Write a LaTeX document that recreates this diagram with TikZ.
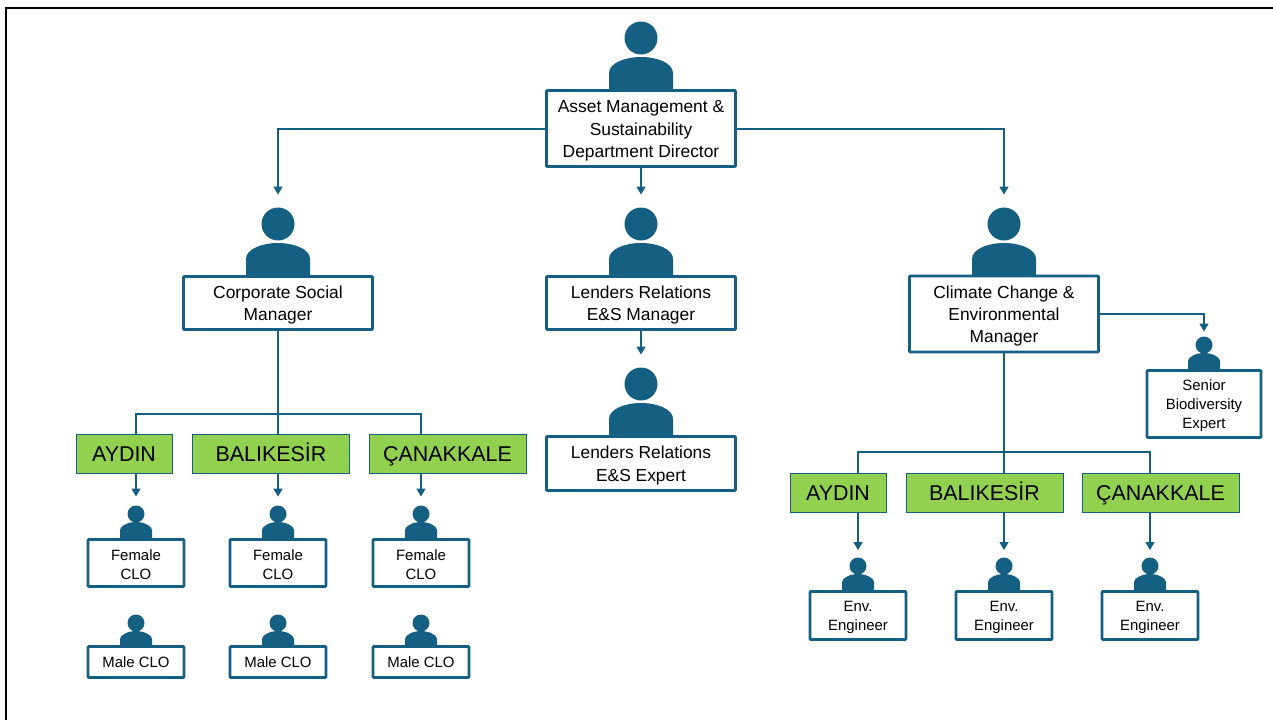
\documentclass[tikz,border=0pt]{standalone}
\usepackage{fontspec}
\setmainfont{Liberation Sans}
\usetikzlibrary{arrows.meta}
\definecolor{sininen}{HTML}{156082}
\definecolor{vihrea}{HTML}{92D050}
\def\px{0.02cm}
\newcommand{\alasbig}{\rule{0pt}{9.5pt}}
\newcommand{\alassmall}{\rule{0pt}{8.5pt}}
\tikzset{
	roolibig/.style={draw=sininen,line width=1.5pt,fill=white,rounded corners=0.4pt,align=center,inner sep=0pt,minimum width=189*\px,font=\fontsize{9.9}{12.75}\selectfont},
	roolismall/.style={draw=sininen,line width=1.5pt,fill=white,rounded corners=0.4pt,align=center,inner sep=0pt,minimum width=96*\px,font=\fontsize{8.5}{10.8}\selectfont},
	alue/.style={draw=sininen,line width=0.5pt,fill=vihrea,inner sep=0pt,text height=8.6pt,text depth=0pt,font=\fontsize{12.2}{14}\selectfont},
	linkki/.style={draw=sininen,line width=1pt},
	nuoli/.style={linkki,-{Triangle[width=5pt,length=4.6pt]}},
	pics/person/.style={code={
		\fill[sininen] (-32,0) -- (-32,-17) .. controls (-32,-27) and (-16,-33) .. (0,-33) .. controls (16,-33) and (32,-27) .. (32,-17) -- (32,0) -- cycle;
		\node[circle,fill=sininen,inner sep=0pt,minimum size=33*\px] (-head) at (0,-52) {};
	}},
	pics/smallperson/.style={code={
		\fill[sininen] (-16,0) -- (-16,-9) .. controls (-16,-13) and (-8,-17) .. (0,-17) .. controls (8,-17) and (16,-13) .. (16,-9) -- (16,0) -- cycle;
		\node[circle,fill=sininen,inner sep=0pt,minimum size=17*\px] (-head) at (0,-25) {};
	}},
}
\begin{document}
\begin{tikzpicture}[x=\px,y=-\px]
	\useasboundingbox (0,0) rectangle (1273,720);
	\draw[line width=1.45pt] (6,720) -- (6,8) -- (1273,8);

	\pic (pdir) at (641,90) {person};
	\pic (pcsm) at (278,276) {person};
	\pic (plrm) at (641,276) {person};
	\pic (pccm) at (1004,276) {person};
	\pic (plre) at (641,436) {person};
	\pic (psbe) at (1204,370) {smallperson};
	\pic (pfa) at (136,539) {smallperson};
	\pic (pfb) at (278,539) {smallperson};
	\pic (pfc) at (421,539) {smallperson};
	\pic (pma) at (136,648) {smallperson};
	\pic (pmb) at (278,648) {smallperson};
	\pic (pmc) at (421,648) {smallperson};
	\pic (pea) at (858,591) {smallperson};
	\pic (peb) at (1004,591) {smallperson};
	\pic (pec) at (1150,591) {smallperson};

	\node[roolibig,minimum height=76*\px] (dir) at (641,128.5) {\alasbig Asset Management \&\\Sustainability\\Department Director};
	\node[roolibig,minimum height=53*\px] (csm) at (278,303) {\alasbig Corporate Social\\Manager};
	\node[roolibig,minimum height=53*\px] (lrm) at (641,303) {\alasbig Lenders Relations\\E\&S Manager};
	\node[roolibig,minimum height=76*\px] (ccm) at (1004,314) {\alasbig Climate Change \&\\Environmental\\Manager};
	\node[roolibig,minimum height=54*\px] (lre) at (641,463.5) {\alasbig Lenders Relations\\E\&S Expert};
	\node[roolismall,minimum width=114*\px,minimum height=67*\px] (sbe) at (1204,404) {\alassmall Senior\\Biodiversity\\Expert};

	\node[alue,minimum width=96*\px,minimum height=39*\px] (aydinL) at (124,453.5) {AYDIN};
	\node[alue,minimum width=157*\px,minimum height=39*\px] (balikesirL) at (271,453.5) {BALIKESİR};
	\node[alue,minimum width=157*\px,minimum height=39*\px] (canakkaleL) at (447.5,453.5) {ÇANAKKALE};
	\node[alue,minimum width=96*\px,minimum height=39*\px] (aydinR) at (838,492.5) {AYDIN};
	\node[alue,minimum width=157*\px,minimum height=39*\px] (balikesirR) at (984.5,492.5) {BALIKESİR};
	\node[alue,minimum width=157*\px,minimum height=39*\px] (canakkaleR) at (1160.5,492.5) {ÇANAKKALE};

	\node[roolismall,minimum height=47*\px] (fa) at (136,563) {\alassmall Female\\CLO};
	\node[roolismall,minimum height=47*\px] (fb) at (278,563) {\alassmall Female\\CLO};
	\node[roolismall,minimum height=47*\px] (fc) at (421,563) {\alassmall Female\\CLO};
	\node[roolismall,minimum height=31*\px] (ma) at (136,662) {Male CLO};
	\node[roolismall,minimum height=31*\px] (mb) at (278,662) {Male CLO};
	\node[roolismall,minimum height=31*\px] (mc) at (421,662) {Male CLO};
	\node[roolismall,minimum height=48*\px] (ea) at (858,615.5) {\alassmall Env.\\Engineer};
	\node[roolismall,minimum height=48*\px] (eb) at (1004,615.5) {\alassmall Env.\\Engineer};
	\node[roolismall,minimum height=48*\px] (ec) at (1150,615.5) {\alassmall Env.\\Engineer};

	\draw[nuoli,shorten >=12.5*\px] (dir.west |- 0,129) -| (pcsm-head.north);
	\draw[nuoli,shorten >=12.5*\px] (dir.east |- 0,129) -| (pccm-head.north);
	\draw[nuoli,shorten >=12.5*\px] (dir.south) -- (plrm-head.north);
	\draw[nuoli,shorten >=12.5*\px] (lrm.south) -- (plre-head.north);
	\draw[nuoli,shorten >=4.5*\px] (ccm.east |- 0,314) -| (psbe-head.north);

	\draw[linkki] (csm.south) -- (balikesirL.north -| csm.south);
	\draw[linkki] (fa.north |- aydinL.north) |- (278,414) -| (fc.north |- canakkaleL.north);
	\draw[linkki] (ccm.south) -- (balikesirR.north -| ccm.south);
	\draw[linkki] (ea.north |- aydinR.north) |- (1004,452) -| (ec.north |- canakkaleR.north);

	\draw[nuoli,shorten >=8.5*\px] (fa.north |- aydinL.south) -- (pfa-head.north);
	\draw[nuoli,shorten >=8.5*\px] (fb.north |- balikesirL.south) -- (pfb-head.north);
	\draw[nuoli,shorten >=8.5*\px] (fc.north |- canakkaleL.south) -- (pfc-head.north);
	\draw[nuoli,shorten >=7*\px] (ea.north |- aydinR.south) -- (pea-head.north);
	\draw[nuoli,shorten >=7*\px] (eb.north |- balikesirR.south) -- (peb-head.north);
	\draw[nuoli,shorten >=7*\px] (ec.north |- canakkaleR.south) -- (pec-head.north);
\end{tikzpicture}
\end{document}
